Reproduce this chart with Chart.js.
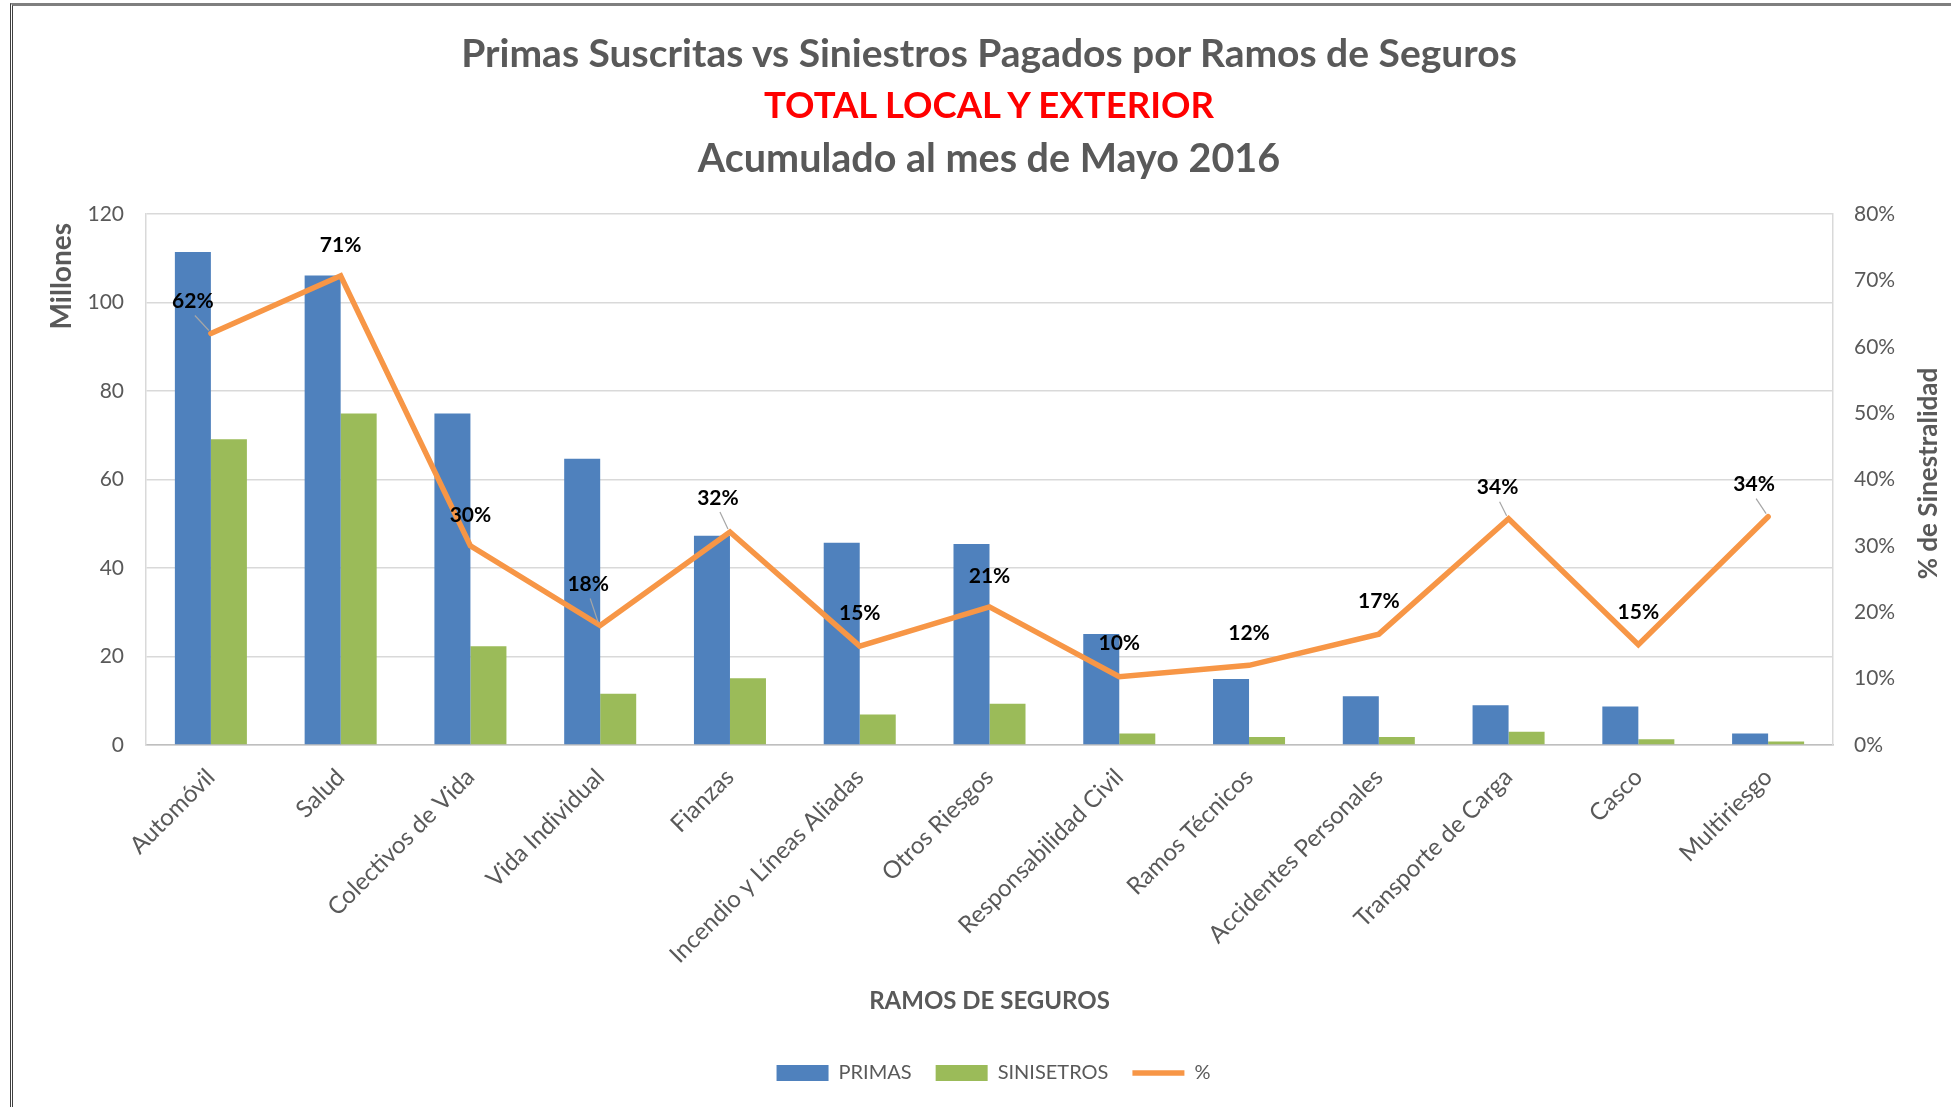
<!DOCTYPE html>
<html>
<head>
<meta charset="utf-8">
<script src="https://cdn.jsdelivr.net/npm/chart.js@4.4.1/dist/chart.umd.min.js"></script>
<style>
html,body{margin:0;padding:0;background:#fff;}
#wrap{position:relative;width:1951px;height:1107px;overflow:hidden;background:#fff;}
#frame{position:absolute;left:10px;top:3px;width:2000px;height:1200px;border-top:3px solid #7f7f7f;border-left:3px double #404040;}
canvas{position:absolute;left:0;top:0;}
.t{position:absolute;left:0;width:1978px;text-align:center;font-family:Lato,"Open Sans",sans-serif;font-weight:bold;line-height:44px;color:#595959;white-space:nowrap;}
</style>
</head>
<body>
<div id="wrap">
  <div id="frame"></div>
  <canvas id="c" width="1951" height="1107"></canvas>
  <div class="t" style="top:30px;font-size:39px;">Primas Suscritas vs Siniestros Pagados por Ramos de Seguros</div>
  <div class="t" style="top:82px;font-size:36.5px;color:#ff0000;">TOTAL LOCAL Y EXTERIOR</div>
  <div class="t" style="top:135px;font-size:39.5px;">Acumulado al mes de Mayo 2016</div>
</div>
<script>
const categories = ['Automóvil','Salud','Colectivos de Vida','Vida Individual','Fianzas','Incendio y Líneas Aliadas','Otros Riesgos','Responsabilidad Civil','Ramos Técnicos','Accidentes Personales','Transporte de Carga','Casco','Multiriesgo'];
const primas = [111.4,106.1,74.9,64.7,47.3,45.7,45.4,25.1,14.9,11.0,9.0,8.7,2.6];
const siniestros = [69.1,74.9,22.3,11.6,15.1,6.9,9.3,2.6,1.8,1.8,3.0,1.3,0.8];
const siniestralidad = [62.0,70.7,30.0,18.0,32.1,14.9,20.8,10.3,12.0,16.7,34.1,15.1,34.4];
const leftTicksMax = 120, leftStep = 20;
const rightTicksMax = 80, rightStep = 10;
const leftTitle = 'Millones';
const rightTitle = '% de Sinestralidad';
const xTitle = 'RAMOS DE SEGUROS';

const FONT = 'Lato';
const GREY = '#595959';

const labelPlugin = {
  id: 'pctLabels',
  afterLayout(chart) {
    if (chart.legend) { chart.legend.left += 18; chart.legend.right += 18; }
  },
  afterDatasetsDraw(chart, args, opts) {
    const meta = chart.getDatasetMeta(2);
    const ctx = chart.ctx;
    ctx.save();
    ctx.font = 'bold 21px ' + FONT;
    ctx.fillStyle = '#000';
    ctx.textAlign = 'center';
    ctx.textBaseline = 'middle';
    meta.data.forEach((pt, i) => {
      const dx = opts.dx[i], dy = opts.dy[i];
      const lx = pt.x + dx, ly = pt.y + dy;
      if (dx !== 0) {
        ctx.strokeStyle = '#a6a6a6';
        ctx.lineWidth = 1.2;
        ctx.beginPath();
        ctx.moveTo(lx + 2, ly + 14);
        ctx.lineTo(pt.x - 2, pt.y - 3);
        ctx.stroke();
      }
      ctx.fillText(Math.round(siniestralidad[i]) + '%', lx, ly);
    });
    ctx.restore();
  },
  afterDraw(chart) {
    const ctx = chart.ctx;
    const area = chart.chartArea;
    ctx.save();
    ctx.fillStyle = GREY;
    ctx.font = 'bold 28px ' + FONT;
    ctx.textBaseline = 'middle';
    ctx.translate(62, area.top + 9);
    ctx.rotate(-Math.PI / 2);
    ctx.textAlign = 'right';
    ctx.fillText(leftTitle, 0, 0);
    ctx.restore();
    ctx.save();
    ctx.fillStyle = GREY;
    ctx.font = 'bold 26px ' + FONT;
    ctx.textBaseline = 'middle';
    ctx.textAlign = 'center';
    ctx.translate(1929, (area.top + area.bottom) / 2 - 6);
    ctx.rotate(-Math.PI / 2);
    ctx.fillText(rightTitle, 0, 0);
    ctx.restore();
  }
};

new Chart(document.getElementById('c'), {
  type: 'bar',
  data: {
    labels: categories,
    datasets: [
      {label: 'PRIMAS', data: primas, backgroundColor: '#4F81BD', yAxisID: 'y', order: 1, pointStyle: 'rect',
       categoryPercentage: 0.555, barPercentage: 1.0},
      {label: 'SINISETROS', data: siniestros, backgroundColor: '#9BBB59', yAxisID: 'y', order: 1, pointStyle: 'rect',
       categoryPercentage: 0.555, barPercentage: 1.0},
      {label: '%', type: 'line', data: siniestralidad, yAxisID: 'y1', order: 0,
       borderColor: '#F79646', backgroundColor: '#F79646', borderWidth: 5.5, pointRadius: 0,
       pointStyle: 'line', borderCapStyle: 'round', borderJoinStyle: 'miter', tension: 0}
    ]
  },
  options: {
    responsive: false,
    animation: false,
    devicePixelRatio: 1,
    layout: {padding: {top: 214, left: 0, right: 0, bottom: 14}},
    plugins: {
      title: {display: false},
      tooltip: {enabled: false},
      legend: {
        position: 'bottom',
        labels: {
          usePointStyle: true, pointStyleWidth: 52, boxHeight: 16,
          color: GREY, font: {family: FONT, size: 20}, padding: 24,
          sort: (a, b) => a.datasetIndex - b.datasetIndex
        }
      },
      pctLabels: {
        dx: [-18,0,0,-12,-12,0,0,0,0,0,-11,0,-14],
        dy: [-32,-30,-31,-41,-34,-33,-31,-33,-32,-33,-31,-33,-32]
      }
    },
    scales: {
      x: {
        grid: {display: false, drawTicks: false},
        border: {display: true, color: '#bfbfbf', width: 1.5},
        ticks: {color: GREY, font: {family: FONT, size: 24}, minRotation: 45, maxRotation: 45, padding: 18, autoSkip: false},
        title: {display: true, text: xTitle, color: GREY, font: {family: FONT, size: 24, weight: 'bold'}, padding: {top: 0, bottom: 23}},
        afterFit(s) { s.height = 294; }
      },
      y: {
        position: 'left', min: 0, max: leftTicksMax,
        ticks: {stepSize: leftStep, color: GREY, font: {family: FONT, size: 21}, padding: 22},
        grid: {color: '#d9d9d9', lineWidth: 1.5, drawTicks: false},
        border: {display: true, color: '#d9d9d9', width: 1.5},
        title: {display: false},
        afterFit(s) { s.width = 146; }
      },
      y1: {
        position: 'right', min: 0, max: rightTicksMax,
        ticks: {stepSize: rightStep, color: GREY, font: {family: FONT, size: 21}, padding: 21, callback: v => v + '%'},
        grid: {display: false, drawTicks: false},
        border: {display: true, color: '#d9d9d9', width: 1.5},
        title: {display: false},
        afterFit(s) { s.width = 118; }
      }
    }
  },
  plugins: [labelPlugin]
});
</script>
</body>
</html>
